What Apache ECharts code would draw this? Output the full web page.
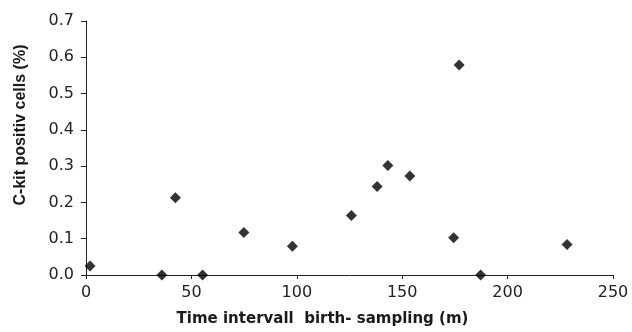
<!DOCTYPE html>
<html><head><meta charset="utf-8">
<script src="https://cdn.jsdelivr.net/npm/echarts@6/dist/echarts.min.js"></script>
<style>html,body{margin:0;padding:0;background:#fff}#c{width:632px;height:332px}</style>
</head><body><div id="c"></div>
<script>
var timeMonths = [1.9, 36, 42.4, 55.3, 74.9, 97.9, 125.9, 138.1, 143.2, 153.6, 177.0, 174.4, 187.2, 228.2];
var ckitPercent = [0.025, 0, 0.213, 0, 0.117, 0.079, 0.164, 0.244, 0.302, 0.273, 0.579, 0.103, 0, 0.084];
var xTitle = 'Time intervall  birth- sampling (m)';
var yTitle = 'C-kit positiv cells (%)';

var pts = timeMonths.map(function(x, i){ return [x, ckitPercent[i]]; });
var labFont = '"DejaVu Sans", "Liberation Sans", sans-serif';
var chart = echarts.init(document.getElementById('c'));
chart.setOption({
  animation: false,
  grid: {left: 86, right: 19, top: 21, bottom: 57, containLabel: false},
  xAxis: {
    type: 'value', min: 0, max: 250, interval: 50,
    name: xTitle, nameLocation: 'middle', nameGap: 37,
    nameTextStyle: {fontFamily: labFont, fontWeight: 'bold', fontSize: 15, color: '#1a1a1a', padding: [0, 54, 0, 0]},
    axisLine: {lineStyle: {color: '#222', width: 1}},
    axisTick: {length: 4, lineStyle: {color: '#222'}},
    axisLabel: {fontFamily: labFont, fontSize: 16, color: '#222', margin: 10},
    splitLine: {show: false}
  },
  yAxis: {
    type: 'value', min: 0, max: 0.7, interval: 0.1,
    name: yTitle, nameLocation: 'middle', nameGap: 57, nameRotate: 90,
    nameTextStyle: {fontFamily: '"Liberation Sans", Arial, sans-serif', fontWeight: 'bold', fontSize: 16, color: '#1a1a1a', padding: [0, 0, 0, 46]},
    axisLine: {show: true, lineStyle: {color: '#222', width: 1}},
    axisTick: {show: true, length: 5, lineStyle: {color: '#222'}},
    axisLabel: {fontFamily: labFont, fontSize: 16, color: '#222', margin: 12,
      formatter: function(v){ return v.toFixed(1); }},
    splitLine: {show: false}
  },
  series: [{
    type: 'scatter', data: pts, symbol: 'diamond', symbolSize: 11,
    itemStyle: {color: '#000'}
  }]
});
</script></body></html>
